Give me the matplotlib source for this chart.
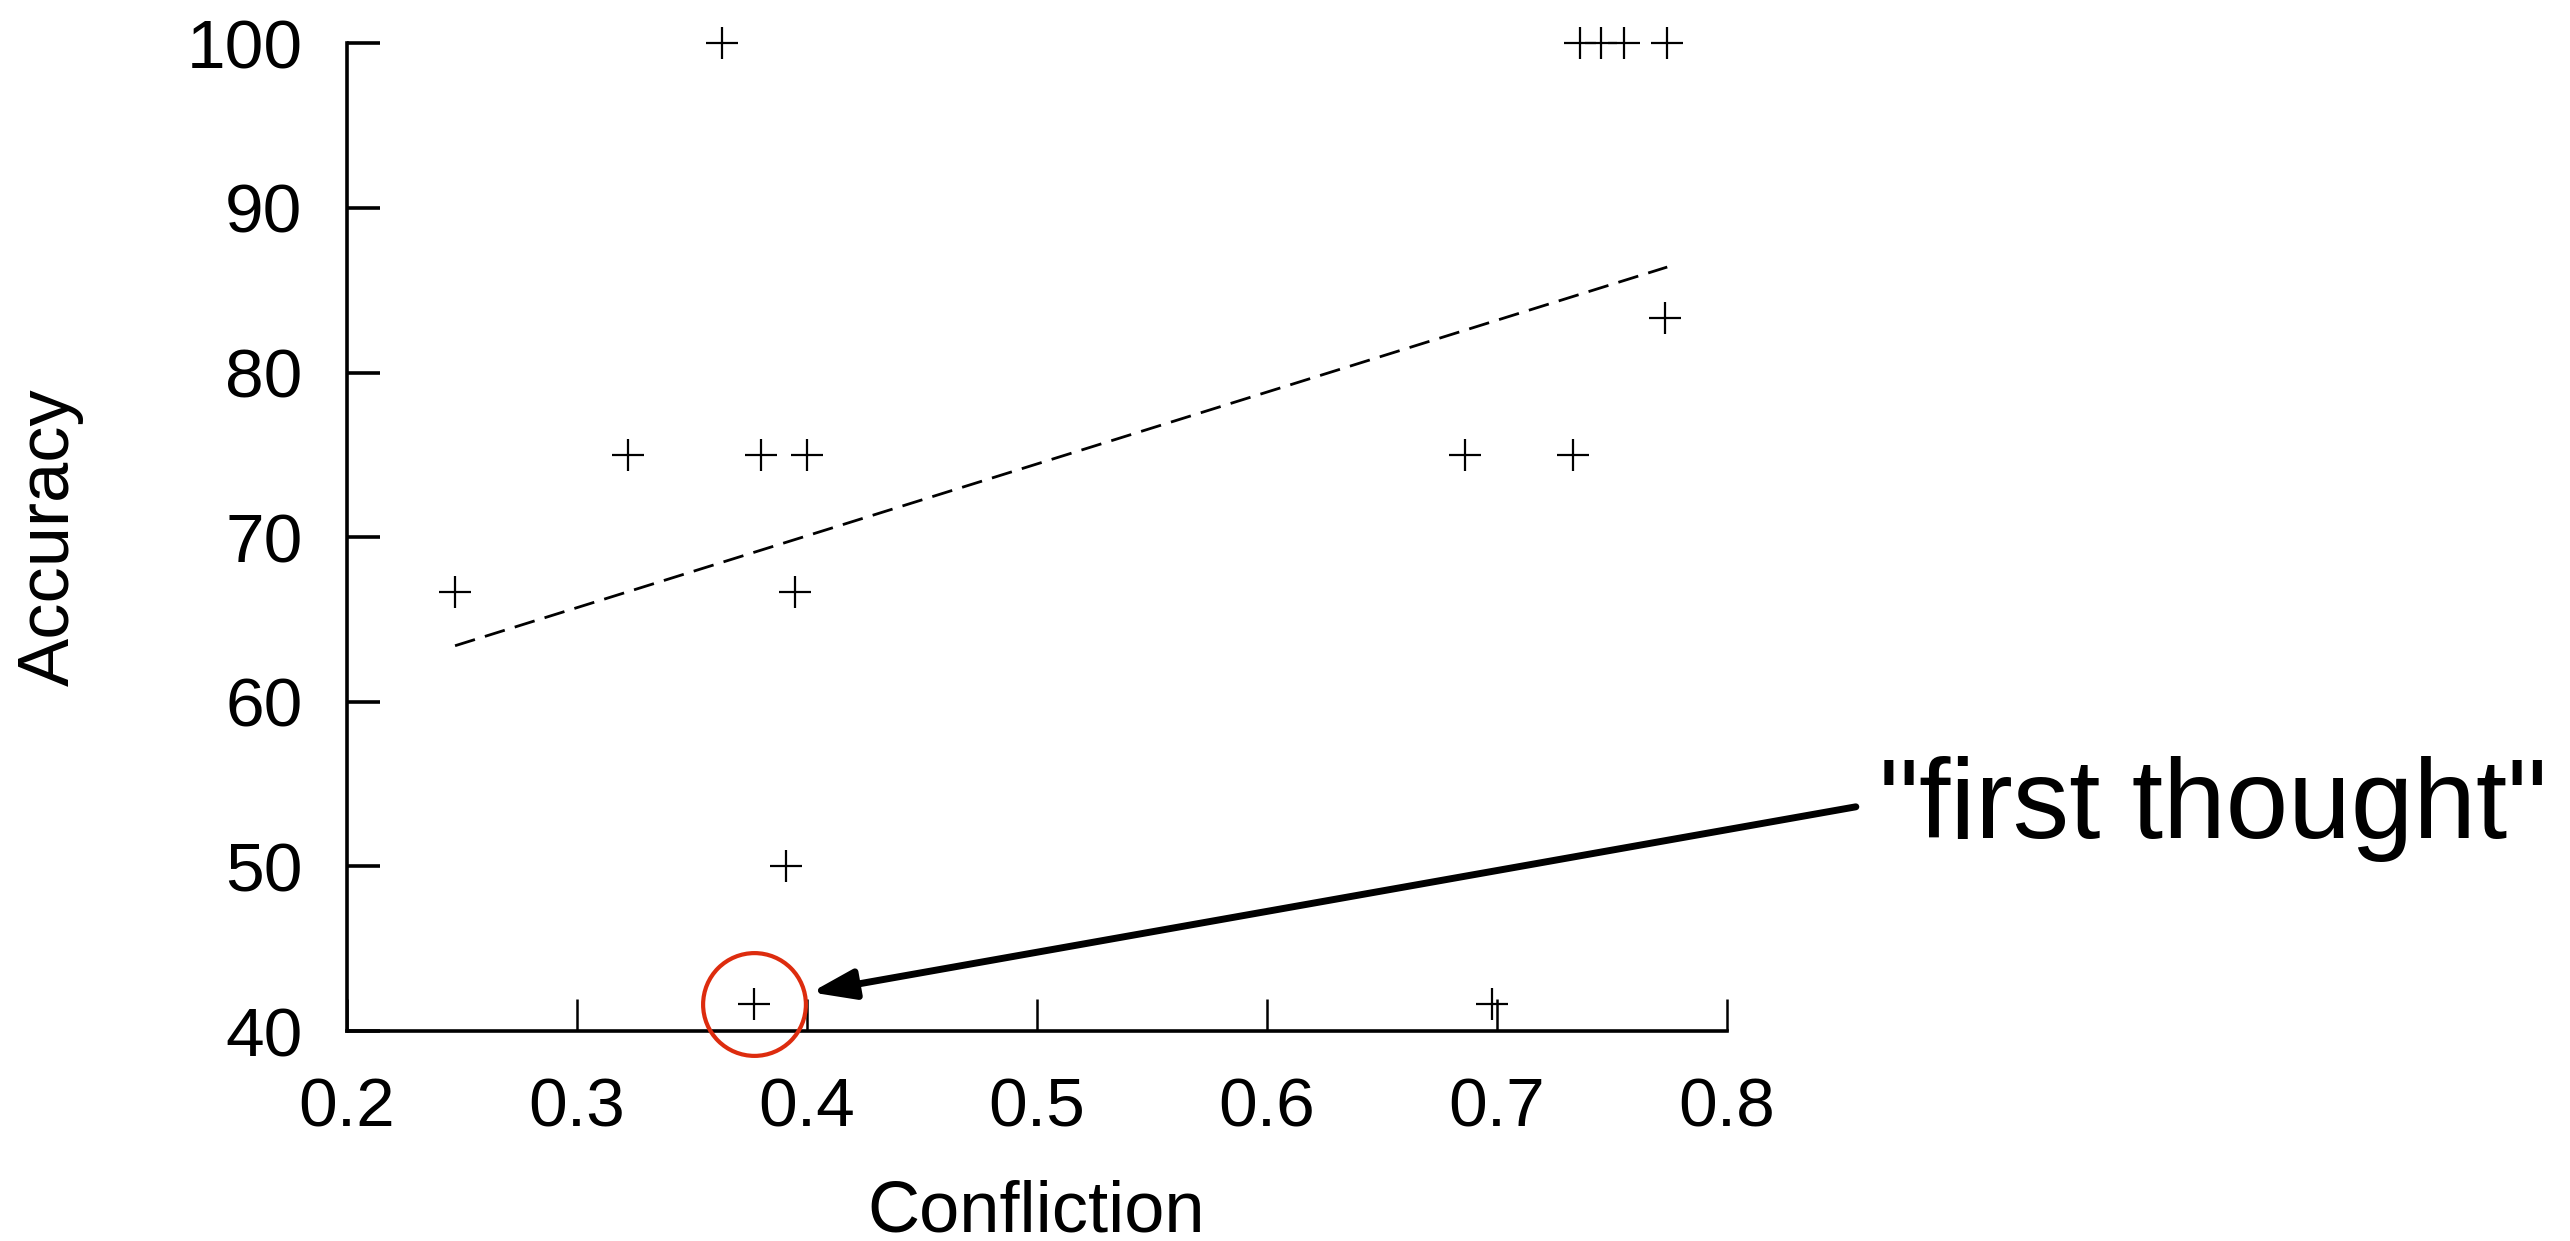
import matplotlib
matplotlib.use("Agg")
import matplotlib.pyplot as plt
import numpy as np

plt.rcParams["font.family"] = ["Liberation Sans", "DejaVu Sans"]
plt.rcParams["lines.scale_dashes"] = False

INK = "#000000"
RED = "#dd2c0e"

# confliction vs accuracy, one entry per participant
confliction = [0.363, 0.736, 0.745, 0.755, 0.774,
               0.773,
               0.322, 0.380, 0.400, 0.686, 0.733,
               0.247, 0.395,
               0.391,
               0.377, 0.698]
accuracy = [100, 100, 100, 100, 100,
            83.33,
            75, 75, 75, 75, 75,
            66.67, 66.67,
            50,
            41.67, 41.67]

x_ticks = [0.2, 0.3, 0.4, 0.5, 0.6, 0.7, 0.8]
y_ticks = [40, 50, 60, 70, 80, 90, 100]

# the "first thought" outlier
OUTLIER = 14
NOTE = '"first thought"'

x = np.array(confliction)
y = np.array(accuracy)

fig = plt.figure(figsize=(25.70, 12.41), dpi=100)
fig.patch.set_facecolor("white")
ax = fig.add_axes([0.135, 0.1692, 0.537, 0.7959])

ax.plot(x, y, ls="none", marker="+", ms=23.5, mew=1.6, color=INK,
        clip_on=False, zorder=3)

# least-squares trend line across the data range
k, b = np.polyfit(x, y, 1)
xs = np.array([x.min(), x.max()])
ax.plot(xs, k * xs + b, color=INK, lw=2, dashes=(15, 7.5), zorder=2)

# red ring around the outlier
ax.plot(x[OUTLIER], y[OUTLIER], ls="none", marker="o", ms=74, mfc="none",
        mec=RED, mew=3, clip_on=False, zorder=4)

ax.annotate("", xy=(0.4018, 42.35), xytext=(0.856, 53.62),
            xycoords="data", textcoords="data", annotation_clip=False,
            arrowprops=dict(arrowstyle="-|>,head_length=1.3,head_width=0.45",
                            mutation_scale=20, lw=5, color=INK,
                            shrinkA=0, shrinkB=0))
fig.text(0.731, 0.3247, NOTE, fontsize=81, ha="left", va="baseline", color=INK)

ax.set_xlim(0.2, 0.8)
ax.set_ylim(40, 100)
ax.set_xticks(x_ticks)
ax.set_yticks(y_ticks)
ax.set_xticklabels([f"{t:.1f}" for t in x_ticks])
ax.set_yticklabels([str(t) for t in y_ticks])

for s in ("top", "right"):
    ax.spines[s].set_visible(False)
for s in ("left", "bottom"):
    ax.spines[s].set_linewidth(2.6)
ax.tick_params(axis="y", direction="in", length=24, width=2.6, pad=32,
               labelsize=50, colors=INK)
ax.tick_params(axis="x", direction="in", length=23, width=1.8, pad=33,
               labelsize=50, colors=INK)

fig.text(0.0195, 0.567, "Accuracy", fontsize=52, rotation=90,
         ha="center", va="center", color=INK)
fig.text(0.403, 0.008, "Confliction", fontsize=52,
         ha="center", va="baseline", color=INK)

fig.savefig("out.png", dpi=100, facecolor="white")
